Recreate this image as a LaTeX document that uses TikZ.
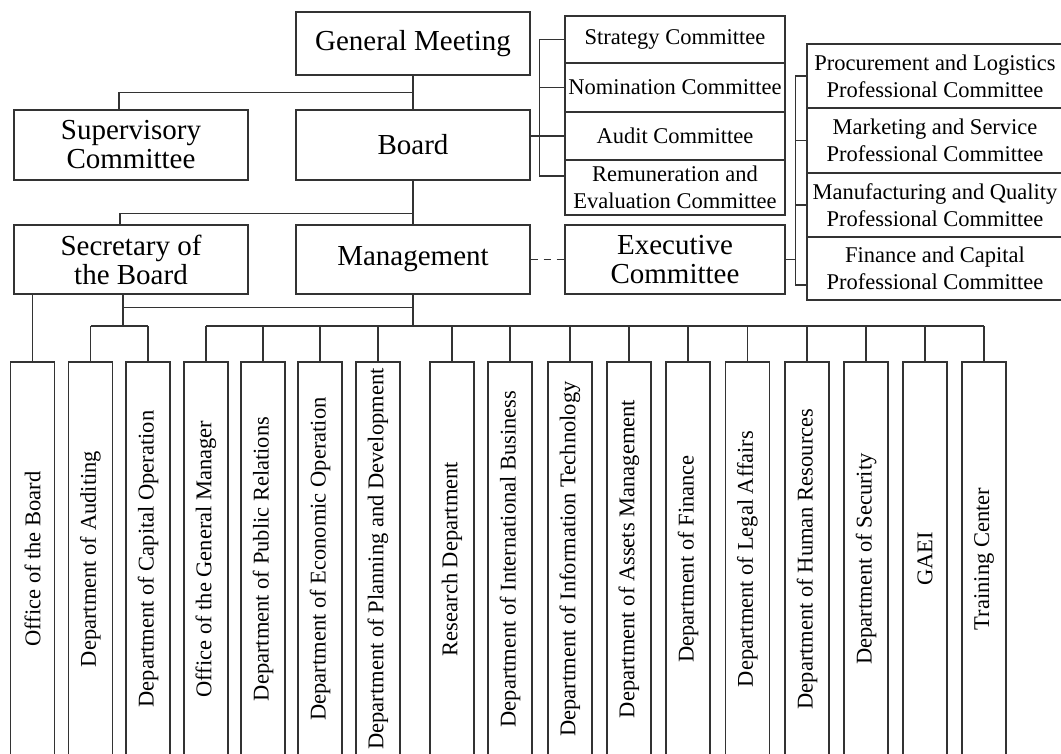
\documentclass[tikz,border=0pt]{standalone}
\usepackage{fontspec}
\setmainfont{Liberation Serif}
\usepackage{graphicx}
\usetikzlibrary{calc}

\definecolor{linegray}{HTML}{333333}
\newcommand{\vlabel}[1]{\rotatebox{90}{#1}}

\begin{document}
\begin{tikzpicture}[x=1pt, y=-1pt, box/.style = {draw=linegray, line width=1.2pt, inner sep=0pt, align=center, text=black}, big/.style = {box, minimum width=234pt, minimum height=70pt, font=\fontsize{29}{29}\selectfont}, small/.style = {box, minimum width=220pt, font=\fontsize{22.5}{27}\selectfont}, prof/.style = {box, minimum width=256pt, minimum height=64pt, font=\fontsize{22.5}{27}\selectfont}, dept/.style = {box, minimum width=44pt, minimum height=394pt, font=\fontsize{22.5}{27}\selectfont}, link/.style = {draw=linegray, line width=1.2pt}]

    \useasboundingbox (0,0) rectangle (1061,753);
    \clip (0,0) rectangle (1061,753);

    % top levels
    \node[big, minimum height=63pt] (gm) at (413,43.5) {General Meeting};
    \node[big] (sup) at (131,145) {Supervisory\\Committee};
    \node[big] (board) at (413,145) {Board};
    \node[big, minimum height=69pt] (sec) at (131,259.5) {Secretary of\\the Board};
    \node[big, minimum height=69pt] (mgmt) at (413,259.5) {Management};

    % committees of the board
    \node[small, minimum height=47pt] (strat) at (675,39.5) {Strategy Committee};
    \node[small, minimum height=49pt] (nomin) at (675,87.5) {Nomination Committee};
    \node[small, minimum height=48pt] (audit) at (675,136) {Audit Committee};
    \node[small, minimum height=55pt] (remun) at (675,187.5) {Remuneration and\\Evaluation Committee};
    \node[big, minimum width=220pt, minimum height=69pt] (exec) at (675,259.5) {Executive\\Committee};

    % professional committees
    \node[prof] (proc) at (935,76) {Procurement and Logistics\\Professional Committee};
    \node[prof, minimum height=65pt] (market) at (935,140.5) {Marketing and Service\\Professional Committee};
    \node[prof] (manuf) at (935,205) {Manufacturing and Quality\\Professional Committee};
    \node[prof, minimum height=63pt] (fincap) at (935,268.5) {Finance and Capital\\Professional Committee};

    % departments
    \node[dept] (office) at (32.5,559) {\vlabel{Office of the Board}};
    \node[dept] (auditing) at (90.5,559) {\vlabel{Department of Auditing}};
    \node[dept] (capop) at (148,559) {\vlabel{Department of Capital Operation}};
    \node[dept] (gmoffice) at (206,559) {\vlabel{Office of the General Manager}};
    \node[dept] (pubrel) at (263,559) {\vlabel{Department of Public Relations}};
    \node[dept] (econ) at (320,559) {\vlabel{Department of Economic Operation}};
    \node[dept] (plandev) at (378,559) {\vlabel{Department of Planning and Development}};
    \node[dept] (research) at (452,559) {\vlabel{Research Department}};
    \node[dept] (intl) at (510,559) {\vlabel{Department of International Business}};
    \node[dept] (infotech) at (570,559) {\vlabel{Department of Information Technology}};
    \node[dept] (assets) at (629,559) {\vlabel{Department of Assets Management}};
    \node[dept] (finance) at (688,559) {\vlabel{Department of Finance}};
    \node[dept] (legal) at (747.5,559) {\vlabel{Department of Legal Affairs}};
    \node[dept] (hr) at (807,559) {\vlabel{Department of Human Resources}};
    \node[dept] (security) at (866,559) {\vlabel{Department of Security}};
    \node[dept] (gaei) at (925,559) {\vlabel{GAEI}};
    \node[dept] (training) at (984,559) {\vlabel{Training Center}};

    % links between the boxes
    \draw[link] (gm) -- (board);
    \draw[link] ($(gm.south)!0.5!(board.north)$) -| ([xshift=-12pt]sup.north);
    \draw[link] (board) -- (mgmt);
    \draw[link] ($(board.south)!0.75!(mgmt.north)$) -| ([xshift=-11pt]sec.north);

    \draw[link] (board.east |- audit) -- (audit.west);
    \draw[link] (strat.west) -- ++(-25pt,0) coordinate (cb) |- ([yshift=11.5pt]remun.west);
    \draw[link] (nomin.west) -- (nomin.west -| cb);

    \draw[link, dash pattern=on 7pt off 6pt] (mgmt) -- (exec);
    \draw[link] (proc.west) -- ++(-11pt,0) coordinate (pb) |- ([yshift=-16.5pt]fincap.west);
    \draw[link] (market.west) -- (market.west -| pb);
    \draw[link] (manuf.west) -- (manuf.west -| pb);
    \draw[link] (exec.east) -- (exec.east -| pb);

    % department bus
    \coordinate (bus) at (0,326);
    \coordinate (s1) at ([xshift=-8pt]sec.south);
    \coordinate (s2) at ($(s1)!0.4!(s1 |- bus)$);
    \draw[link] (sec.south -| office) -- (office.north);
    \draw[link] (s1) -- (s1 |- bus);
    \draw[link] (s2) -- (s2 -| mgmt);
    \draw[link] (mgmt.south) -- (mgmt.south |- bus);
    \draw[link] (auditing.north |- bus) -- (capop.north |- bus);
    \draw[link] (gmoffice.north |- bus) -- (training.north |- bus);
    \foreach \d in {auditing, capop, gmoffice, pubrel, econ, plandev, research, intl, infotech, assets, finance, legal, hr, security, gaei, training}
        \draw[link] (\d.north) -- (\d.north |- bus);

\end{tikzpicture}
\end{document}
